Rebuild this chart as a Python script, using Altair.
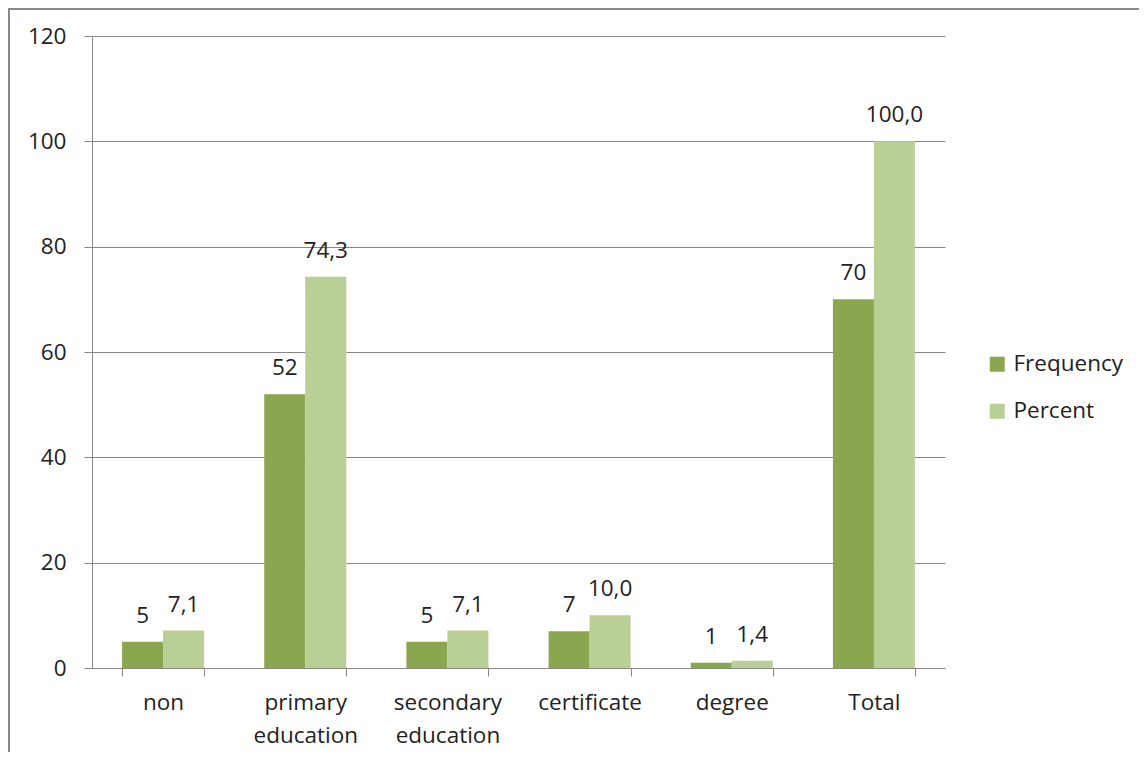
import altair as alt
import pandas as pd

categories = ["non", "primary education", "secondary education", "certificate", "degree", "Total"]
frequency = [5, 52, 5, 7, 1, 70]
percent = [7.1, 74.3, 7.1, 10.0, 1.4, 100.0]
series = ["Frequency", "Percent"]
colors = ["#8aa64f", "#b9cf95"]
y_ticks = [0, 20, 40, 60, 80, 100, 120]

rows = []
for c, f, p in zip(categories, frequency, percent):
    rows.append({"category": c, "series": "Frequency", "value": f, "label": str(f)})
    rows.append({"category": c, "series": "Percent", "value": p,
                 "label": f"{p:.1f}".replace(".", ",")})
df = pd.DataFrame(rows)

FONT = "Open Sans"
GRAY = "#868686"
TXT = "#222222"
FS = 22.5

x = alt.X("category:N", sort=categories, title=None,
          scale=alt.Scale(paddingInner=0.423, paddingOuter=0.2115),
          axis=alt.Axis(labelAngle=0, labelExpr="split(datum.label, ' ')",
                        tickBand="extent", domainColor=GRAY, tickColor=GRAY,
                        tickSize=8, labelPadding=15, labelFontSize=FS,
                        labelLineHeight=33, labelColor=TXT, labelFont=FONT,
                        grid=False, labelBaseline="top"))
y = alt.Y("value:Q", title=None, scale=alt.Scale(domain=[0, 120]),
          axis=alt.Axis(values=y_ticks, tickSize=8, labelPadding=18, grid=True,
                        gridColor=GRAY, domainColor=GRAY, tickColor=GRAY,
                        labelFontSize=FS, labelFont=FONT, labelColor=TXT,
                        minExtent=70, maxExtent=70))
xo = alt.XOffset("series:N", sort=series, scale=alt.Scale(paddingInner=0, paddingOuter=0))

bars = alt.Chart(df).mark_bar().encode(
    x=x, xOffset=xo, y=y,
    color=alt.Color("series:N", scale=alt.Scale(domain=series, range=colors),
                    legend=alt.Legend(title=None, orient="none", legendX=894, legendY=317,
                                      symbolType="square", symbolSize=225,
                                      symbolStrokeWidth=0, labelFontSize=FS,
                                      labelFont=FONT, labelColor=TXT, rowPadding=24,
                                      labelOffset=5, padding=0))
)
text = alt.Chart(df).mark_text(dy=-19, baseline="alphabetic", fontSize=FS,
                               font=FONT, color=TXT).encode(
    x=x, xOffset=xo, y=y, text="label:N")

frame_df = pd.DataFrame({"a": [0]})
top_line = alt.Chart(frame_df).mark_rule(color="#888888", strokeWidth=2).encode(
    x=alt.value(-84), x2=alt.value(1060), y=alt.value(-27))
left_line = alt.Chart(frame_df).mark_rule(color="#888888", strokeWidth=2).encode(
    x=alt.value(-83), y=alt.value(-28), y2=alt.value(740))

chart = alt.layer(bars, text, top_line, left_line).properties(
    width=853, height=632,
    autosize=alt.AutoSizeParams(type="none"),
    padding={"left": 84, "top": 28, "right": 194, "bottom": 84},
).configure_view(strokeWidth=0)

chart.save("out.html", embed_options={"renderer": "svg", "actions": False})
